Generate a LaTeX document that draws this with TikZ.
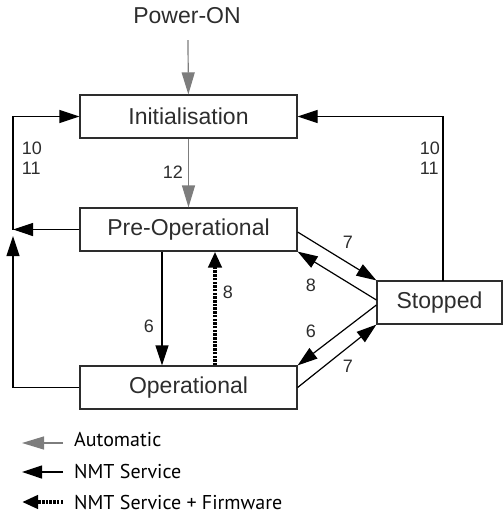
\documentclass[tikz,border=0pt]{standalone}
\usepackage{fontspec}
\setmainfont{Liberation Sans}
\newfontfamily\legendfont{PT Sans}
\usetikzlibrary{arrows.meta}
\definecolor{inkgray}{RGB}{45,45,45}
\definecolor{autogray}{RGB}{125,125,125}
\begin{document}
\begin{tikzpicture}[x=1pt,y=-1pt,
    state/.style={shape=rectangle,draw=inkgray,line width=1.2pt,minimum height=43pt,
        text=inkgray,font=\fontsize{23}{27}\selectfont,inner sep=0pt},
    num/.style={text=inkgray,font=\fontsize{18}{20}\selectfont,inner sep=0pt},
    nmt/.style={draw=black,line width=1.2pt,-{Triangle[length=20pt,width=13pt]}},
    autoarrow/.style={draw=autogray,line width=1.2pt,-{Triangle[length=22pt,width=13pt]}},
    fw/.style={draw=black,line width=4pt,dash pattern=on 2.5pt off 1.2pt,
        -{Triangle[length=16pt,width=13pt]}},
    legend/.style={anchor=west,text=black,font=\legendfont\fontsize{20}{24}\selectfont,inner sep=0pt}]
    \useasboundingbox (0,0) rectangle (503,515);

    \node[text=inkgray,font=\fontsize{23}{27}\selectfont,inner sep=0pt] (power) at (187,16) {Power-ON};
    \node[state,minimum width=217pt] (init) at (188.5,116.5) {Initialisation};
    \node[state,minimum width=217pt] (preop) at (188.5,229.5) {Pre-Operational};
    \node[state,minimum width=217pt] (op) at (188.5,387.5) {Operational};
    \node[state,minimum width=125pt] (stop) at (439.5,302.5) {Stopped};

    \coordinate (pwr) at (188,40);
    \coordinate (ltop) at (13,116.5);
    \coordinate (ljoin) at (13,229.5);
    \coordinate (lup) at (13,236);
    \coordinate (lbot) at (13,387.5);
    \coordinate (rtop) at (443,116.5);
    \coordinate (rbot) at (443,281);

    % automatic
    \path (pwr) edge [autoarrow] (init);
    \path (init) edge [autoarrow] (preop);

    % reset node / communication
    \draw [nmt] (ljoin) -- (ltop) -- (init.west);
    \draw [nmt] (rbot) -- (rtop) -- (init.east);
    \path (preop.west) edge [nmt] (ljoin);
    \draw [nmt] (op.west) -- (lbot) -- (lup);

    % pre-operational / operational
    \path ([xshift=-26.5pt]preop.south) edge [nmt] ([xshift=-26.5pt]op.north);
    \path ([xshift=26.5pt]op.north) edge [fw] ([xshift=26.5pt]preop.south);

    % stopped
    \path ([yshift=-2.5pt]preop.east) edge [nmt] (stop.north west);
    \path ([yshift=2.5pt]stop.west) edge [nmt] (preop.south east);
    \path ([yshift=-2.5pt]stop.west) edge [nmt] (op.north east);
    \path (op.east) edge [nmt] (stop.south west);

    \node[num,align=left] (l1011) at (32,158) {10\\11};
    \node[num,align=left] (r1011) at (430,158) {10\\11};
    \node[num] (n12) at (173,172) {12};
    \node[num] (n6a) at (149,326) {6};
    \node[num] (n8a) at (228,292) {8};
    \node[num] (n7a) at (348,242) {7};
    \node[num] (n8b) at (311,285) {8};
    \node[num] (n6b) at (311,331) {6};
    \node[num] (n7b) at (348,366) {7};

    % legend
    \coordinate (a1) at (63,443);
    \coordinate (a0) at (22,443);
    \coordinate (b1) at (63,472);
    \coordinate (b0) at (22,472);
    \coordinate (c1) at (63,502);
    \coordinate (c0) at (22,502);
    \path (a1) edge [autoarrow] (a0);
    \path (b1) edge [nmt] (b0);
    \path (c1) edge [fw] (c0);
    \node[legend] (lauto) at (74,440) {Automatic};
    \node[legend] (lnmt) at (74,471) {NMT Service};
    \node[legend] (lfw) at (74,502) {NMT Service + Firmware};
\end{tikzpicture}
\end{document}
